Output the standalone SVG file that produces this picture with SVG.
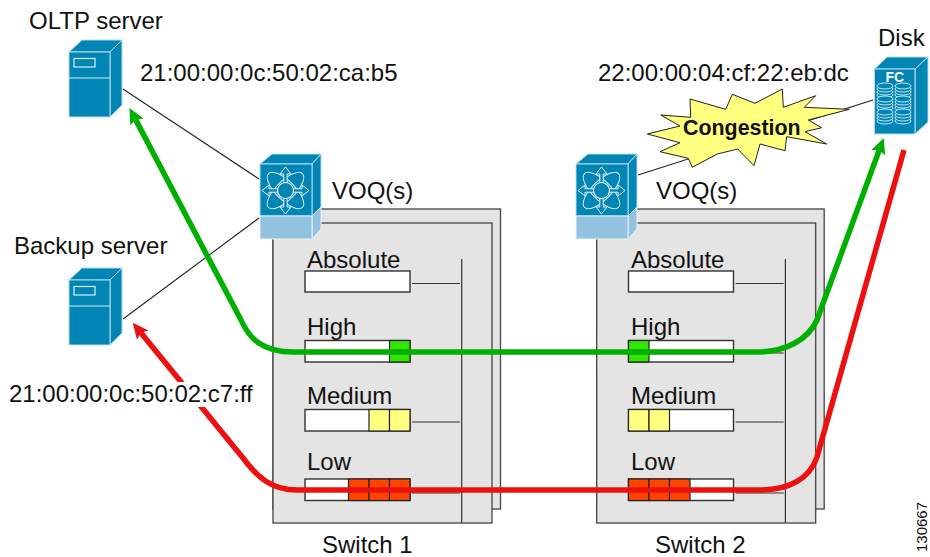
<svg xmlns="http://www.w3.org/2000/svg" xmlns:xlink="http://www.w3.org/1999/xlink" width="930" height="557" viewBox="0 0 930 557">
<style>
text{font-family:"Liberation Sans",Arial,sans-serif;font-size:24px;fill:#111}
.b{fill:#0085b5;stroke:#b5dcec;stroke-width:1}
.w{fill:none;stroke:#d8eff8;stroke-width:1.200}
.lb{fill:#93c2e0;stroke:#e8f4fa;stroke-width:1}
.panel{fill:#e4e4e4;stroke:#444;stroke-width:1.300}
.q{fill:#fff;stroke:#333;stroke-width:1.400}
.g{fill:#33e600;stroke:#222;stroke-width:1.200}
.y{fill:#ffff80;stroke:#222;stroke-width:1.200}
.r{fill:#ff4400;stroke:#222;stroke-width:1.200}
.thin{fill:none;stroke:#222;stroke-width:1.100}
.st{fill:none;stroke:#333;stroke-width:1.200}
.green{fill:none;stroke:#00b000;stroke-width:5.500;marker-start:url(#ag);marker-end:url(#ag)}
.red{fill:none;stroke:#ec1010;stroke-width:5.500;marker-start:url(#ar)}
</style>
<defs>
<marker id="ag" markerUnits="userSpaceOnUse" markerWidth="20" markerHeight="20" refX="3" refY="10" orient="auto-start-reverse"><path d="M0,2.500L16,10L0,17.500L3,10z" fill="#00b000"/></marker>
<marker id="ar" markerUnits="userSpaceOnUse" markerWidth="20" markerHeight="20" refX="3" refY="10" orient="auto-start-reverse"><path d="M0,2.500L16,10L0,17.500L3,10z" fill="#ec1010"/></marker>
<g id="server">
<path class="b" d="M69 52L82 40H122L110 52z"/>
<path class="b" d="M110 52L122 40V105L110 117z"/>
<rect class="b" x="69" y="52" width="41" height="65"/>
<path class="w" d="M69 78H110"/>
<rect class="w" x="74" y="58.500" width="21" height="8.500"/>
</g>
<g id="mds">
<path class="b" d="M260 164L272 154H321L312 164z"/>
<path class="b" d="M312 164L321 154V207L312 216z"/>
<path class="lb" d="M312 216L321 207V229L312 239z"/>
<rect class="b" x="260" y="164" width="52" height="52"/>
<rect class="lb" x="260" y="216" width="52" height="23"/>
<g fill="none" stroke="#d8eff8" stroke-width="1">
<ellipse cx="285.500" cy="190.500" rx="24" ry="9.500" transform="rotate(45 285.500 190.500)"/>
<ellipse cx="285.500" cy="190.500" rx="24" ry="9.500" transform="rotate(-45 285.500 190.500)"/>
</g>
<path d="M285.500 167l-5.500 7h3.800v8.500h3.400v-8.500h3.800zM285.500 214l-5.500-7h3.800v-8.500h3.400v8.500h3.800zM262 190.500l7-5.500v3.800h8.500v3.400h-8.500v3.800zM309 190.500l-7-5.500v3.800h-8.500v3.400h8.500v3.800z" fill="#0085b5" stroke="#e4f4fa" stroke-width="1"/>
<circle cx="285.500" cy="190.500" r="8" fill="#0085b5" stroke="#e4f4fa" stroke-width="1.200"/>
</g>
<g id="stack" fill="#0085b5" stroke="#d8eff8" stroke-width="0.900">
<ellipse cx="0" cy="10" rx="8" ry="3"/><ellipse cx="0" cy="7" rx="8" ry="3"/><ellipse cx="0" cy="4" rx="8" ry="3"/><ellipse cx="0" cy="1" rx="8" ry="3"/>
</g>
<g id="panelset">
<rect class="panel" x="273" y="209" width="227.500" height="300"/>
<rect class="panel" x="273" y="223" width="219" height="300"/>
<path class="st" d="M461.700 259V523M412 283.500H460M412 353H460M412 422H460M412 493H460"/>
</g>
</defs>

<g id="switch-1-panel">
<use href="#panelset"/>
<rect class="q" x="305" y="271" width="105" height="21"/>
<rect class="q" x="305" y="340.500" width="105" height="21.500"/>
<rect class="g" x="389.500" y="340.500" width="20.500" height="21.500"/>
<rect class="q" x="305" y="409.500" width="105" height="21.500"/>
<rect class="y" x="369" y="409.500" width="20.500" height="21.500"/>
<rect class="y" x="389.500" y="409.500" width="20.500" height="21.500"/>
<rect class="q" x="305" y="479" width="105" height="21.500"/>
<rect class="r" x="348.500" y="479" width="20.500" height="21.500"/>
<rect class="r" x="369" y="479" width="20.500" height="21.500"/>
<rect class="r" x="389.500" y="479" width="20.500" height="21.500"/>
<text x="307" y="268">Absolute</text>
<text x="307" y="335">High</text>
<text x="307" y="404">Medium</text>
<text x="307" y="470">Low</text>
<text x="322" y="553">Switch 1</text>
</g>

<g id="switch-2-panel">
<use href="#panelset" x="323.700"/>
<rect class="q" x="628.500" y="271" width="105" height="21"/>
<rect class="q" x="628.500" y="340.500" width="105" height="21.500"/>
<rect class="g" x="628.500" y="340.500" width="20.500" height="21.500"/>
<rect class="q" x="628.500" y="409.500" width="105" height="21.500"/>
<rect class="y" x="628.500" y="409.500" width="20.500" height="21.500"/>
<rect class="y" x="649" y="409.500" width="20.500" height="21.500"/>
<rect class="q" x="628.500" y="479" width="105" height="21.500"/>
<rect class="r" x="628.500" y="479" width="20.500" height="21.500"/>
<rect class="r" x="649" y="479" width="20.500" height="21.500"/>
<rect class="r" x="669.500" y="479" width="20.500" height="21.500"/>
<text x="631" y="268">Absolute</text>
<text x="631" y="335">High</text>
<text x="631" y="404">Medium</text>
<text x="631" y="470">Low</text>
<text x="655" y="553">Switch 2</text>
</g>

<g id="connectors">
<path class="thin" d="M123 89L259 179"/>
<path class="thin" d="M123 319L259 218"/>
<path class="thin" d="M638 175L873 100"/>
<path class="green" d="M135.500 119.400L241 320C249 338 262 352 293 352H757C785 352 808 340 817 320L879.200 150.100"/>
<path class="red" d="M140.900 332.800L243 458C258 478 272 490 297 490H760C790 490 810 478 817 457L904 150"/>
</g>

<g id="congestion">
<polygon points="647.300,134 680,126 660.700,115 690.700,117.300 690,99 725.700,109.300 732.300,94.300 755,103.300 782.300,89 783.300,107.300 815.700,95.700 804.300,107.300 849.300,109.300 808.300,120 821.700,127.700 805,131.700 826.700,144 786.700,136.700 785,150.700 760,144 754,165.700 737.700,149 717.300,154 692.300,167.300 688.300,158.300 660,151.700 680,142.700" fill="#ffff80" stroke="#222" stroke-width="1"/>
<text x="683" y="135" style="font-weight:bold;font-size:21.400px">Congestion</text>
</g>

<g id="oltp-server">
<use href="#server"/>
<text x="29" y="29">OLTP server</text>
<text x="140" y="81">21:00:00:0c:50:02:ca:b5</text>
</g>
<g id="backup-server">
<use href="#server" y="228"/>
<text x="14" y="254">Backup server</text>
<rect x="9" y="382" width="245" height="25" fill="#fff"/>
<text x="9" y="402">21:00:00:0c:50:02:c7:ff</text>
</g>
<g id="switch-1">
<use href="#mds"/>
<text x="332" y="199">VOQ(s)</text>
</g>
<g id="switch-2">
<use href="#mds" x="316"/>
<text x="656" y="199">VOQ(s)</text>
</g>
<g id="disk">
<path class="b" d="M874.500 69L887 57H928L915 69z"/>
<path class="b" d="M915 69L928 57V122L915 134z"/>
<rect class="b" x="874.500" y="69" width="40.500" height="65"/>
<text x="885.500" y="81.500" style="font-weight:bold;font-size:14px;fill:#fff">FC</text>
<use href="#stack" x="885" y="85"/><use href="#stack" x="903" y="85"/>
<use href="#stack" x="885" y="98"/><use href="#stack" x="903" y="98"/>
<use href="#stack" x="885" y="111"/><use href="#stack" x="903" y="111"/>
<text x="878" y="46">Disk</text>
<text x="598" y="81">22:00:00:04:cf:22:eb:dc</text>
</g>
<text transform="translate(926.500 552) rotate(-90)" style="font-size:15px">130667</text>
</svg>
